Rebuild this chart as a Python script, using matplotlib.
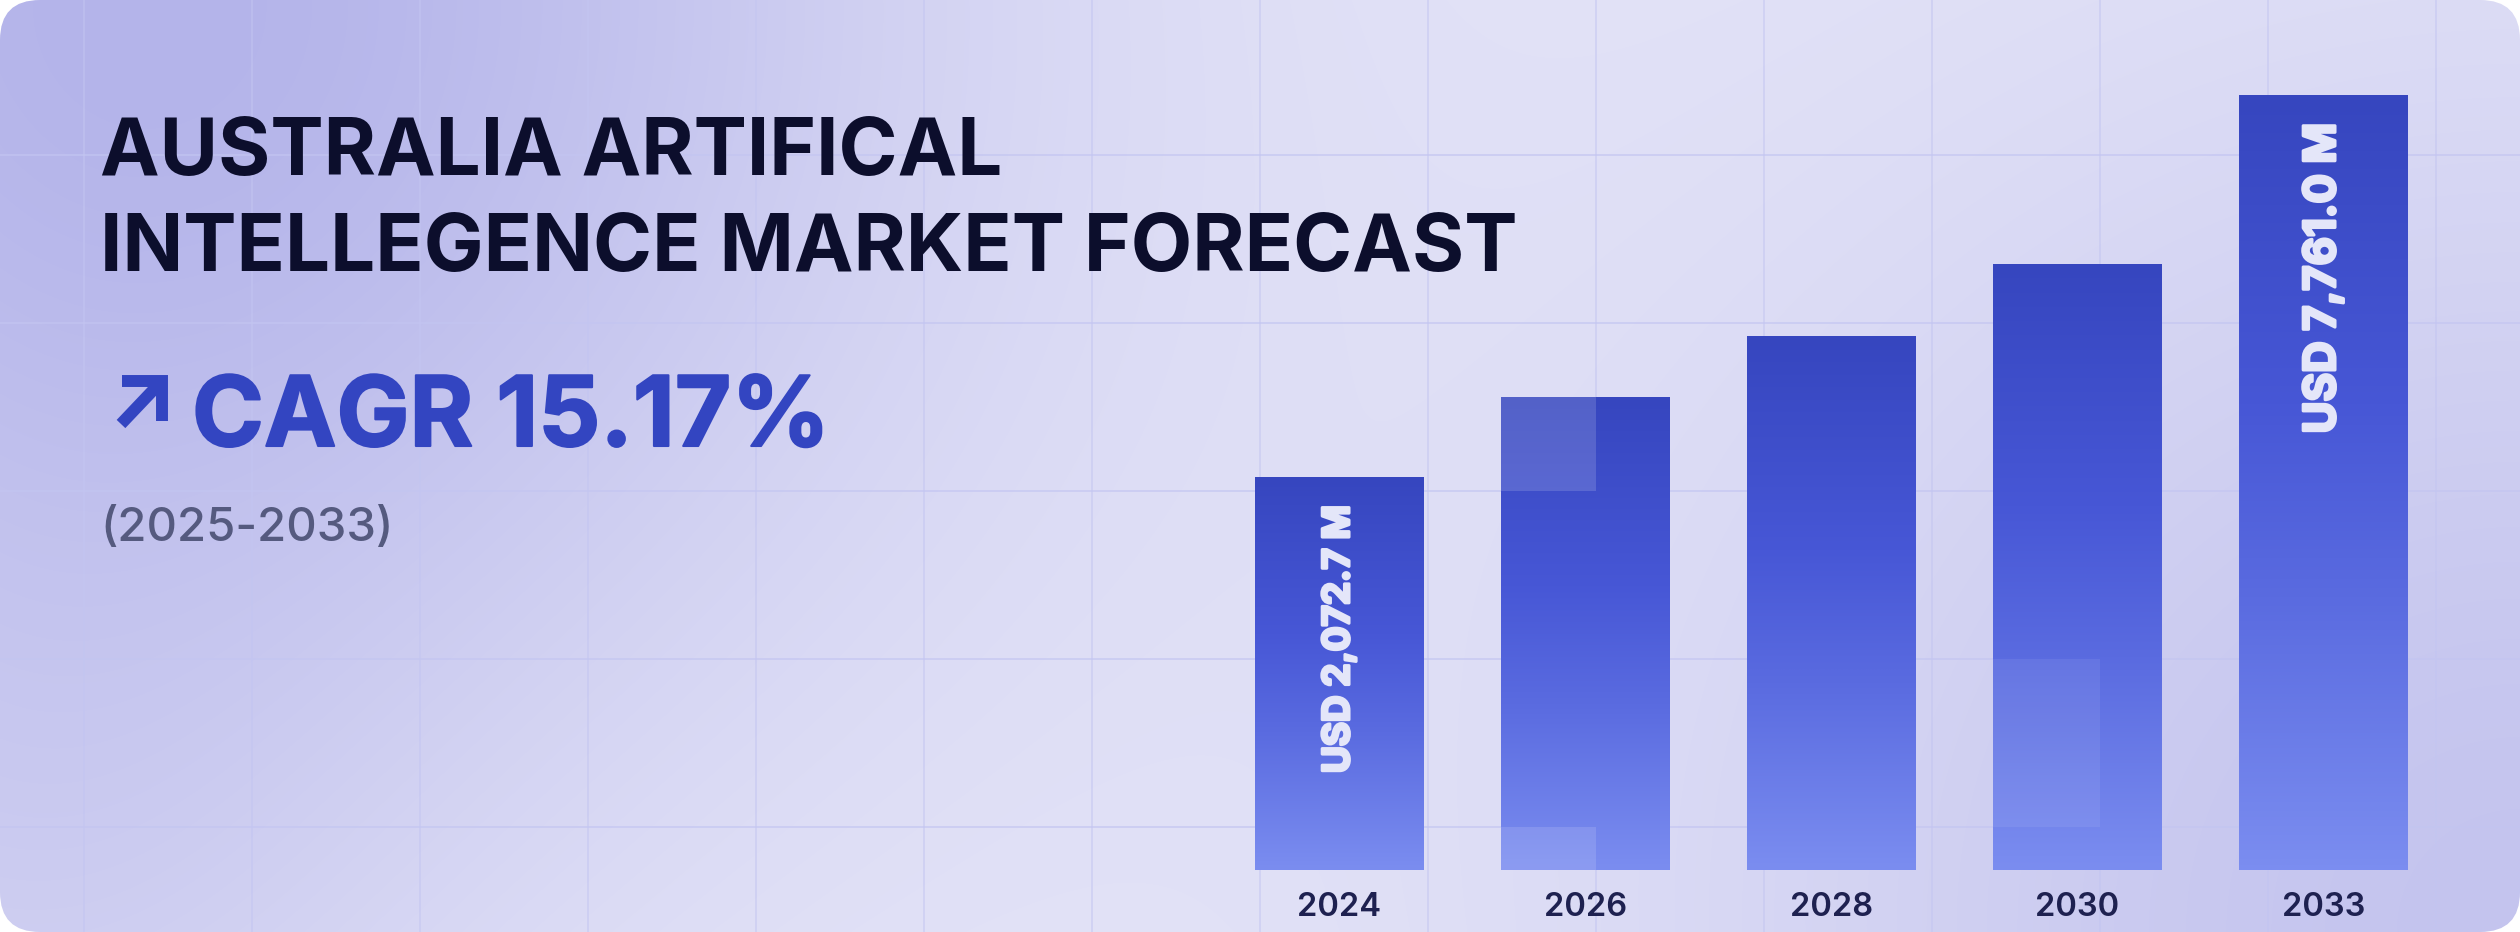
import numpy as np
import matplotlib
matplotlib.use("Agg")
import matplotlib.pyplot as plt
import matplotlib.patheffects as pe
from matplotlib.patches import FancyBboxPatch, Rectangle
from matplotlib.colors import LinearSegmentedColormap, to_rgb

# ---------------- data ----------------
years = ["2024", "2026", "2028", "2030", "2033"]
# relative bar heights (2033 bar = 100)
relative_height = [50.7, 61.0, 68.9, 78.2, 100.0]
bar_labels = ["USD 2,072.7 M", "", "", "", "USD 7,761.0 M"]
title_lines = ["AUSTRALIA ARTIFICAL", "INTELLEGENCE MARKET FORECAST"]
cagr_text = "CAGR 15.17%"
period_text = "(2025-2033)"

# ---------------- figure ----------------
W, H = 2520, 932
DPI = 100
fig = plt.figure(figsize=(W / DPI, H / DPI), dpi=DPI)
fig.patch.set_facecolor("white")

bg = fig.add_axes([0, 0, 1, 1])
bg.set_xlim(0, W)
bg.set_ylim(H, 0)
bg.axis("off")

# gradient background clipped to rounded rectangle
yy, xx = np.mgrid[0:H, 0:W]
base = np.array(to_rgb("#e7e7f8"))
purple = np.array(to_rgb("#b4b4ea"))
w1 = np.exp(-((xx - 150) ** 2 + (yy - 0) ** 2) / (2 * 560 ** 2))
w2 = 0.68 * np.exp(-((xx - 2520) ** 2 + (yy - 932) ** 2) / (2 * 620 ** 2))
w3 = 0.25 * np.exp(-((xx - 0) ** 2 + (yy - 932) ** 2) / (2 * 300 ** 2))
w = np.clip(w1 + w2 + w3, 0, 1)[..., None]
img = base * (1 - w) + purple * w
card = FancyBboxPatch((0, 0), W, H, boxstyle="round,pad=0,rounding_size=40",
                      facecolor="none", edgecolor="none", transform=bg.transData)
bg.add_patch(card)
im = bg.imshow(img, extent=(0, W, H, 0), origin="upper", zorder=0, aspect="auto")
im.set_clip_path(card)

# faint grid
grid_col = "#c3c5f1"
for gx in np.arange(84, W, 168):
    l = bg.plot([gx, gx], [0, H], color=grid_col, lw=1.2, alpha=0.6, zorder=1)[0]
    l.set_clip_path(card)
for gy in np.arange(155, H, 168):
    l = bg.plot([0, W], [gy, gy], color=grid_col, lw=1.4, alpha=0.65, zorder=1)[0]
    l.set_clip_path(card)

# ---------------- texts ----------------
title_font = dict(family=["Inter", "DejaVu Sans"], fontweight="bold")
bg.text(100, 175, title_lines[0], fontsize=57.5, color="#0c0e2c", va="baseline",
        ha="left", zorder=5, **title_font)
bg.text(100, 271, title_lines[1], fontsize=57.5, color="#0c0e2c", va="baseline",
        ha="left", zorder=5, **title_font)

blue_txt = "#3345c1"
# arrow icon
bg.plot([122, 162, 162], [381, 381, 421], color=blue_txt, lw=8.6,
        solid_joinstyle="miter", solid_capstyle="butt", zorder=5)
bg.plot([159, 121], [384, 424], color=blue_txt, lw=8.6,
        solid_capstyle="butt", zorder=5)
bg.text(192, 446, cagr_text, fontsize=70, color=blue_txt, va="baseline",
        ha="left", zorder=5, **title_font,
        path_effects=[pe.withStroke(linewidth=1.5, foreground=blue_txt)])
bg.text(100, 541, period_text, fontsize=34, color="#555a7f", va="baseline",
        ha="left", zorder=5, family=["Inter", "DejaVu Sans"], fontweight="medium")

# ---------------- bars ----------------
x_left, x_right = 1216.5, 2446.5
y_bottom_px, y_top_px = 870, 95
ax = fig.add_axes([x_left / W, (H - y_bottom_px) / H,
                   (x_right - x_left) / W, (y_bottom_px - y_top_px) / H])
ax.axis("off")
ax.patch.set_alpha(0)

bar_w = 169 / 246
xs = np.arange(len(years))
bars = ax.bar(xs, relative_height, width=bar_w, color="none", edgecolor="none", zorder=2)

cmap = LinearSegmentedColormap.from_list(
    "barg", [(0.0, "#7b8df0"), (0.35, "#5a6be0"), (0.6, "#4757d6"), (1.0, "#3646bf")])
grad = np.linspace(0, 1, 256)[:, None]
for b in bars:
    x0 = b.get_x()
    h = b.get_height()
    gi = ax.imshow(grad, extent=(x0, x0 + b.get_width(), 0, h), origin="lower",
                   cmap=cmap, aspect="auto", zorder=2, interpolation="bicubic")
    gi.set_clip_path(b)

ax.set_xlim(-0.5, len(years) - 0.5)
ax.set_ylim(0, 100)

# translucent highlight cells over bars (decorative)
highlight_cells = [((1428, 323, 168, 168), 0.15), ((1428, 827, 168, 105), 0.13),
                   ((1932, 659, 168, 168), 0.07)]
for (cx, cy, cw, ch), a in highlight_cells:
    for b in bars:
        r = Rectangle((cx, cy), cw, ch, transform=bg.transData, facecolor="white",
                      alpha=a, edgecolor="none", zorder=3)
        ax.add_patch(r)
        r.set_clip_path(b)

# value labels inside bars
label_col = "#e4e6f9"
label_sizes = [26.5, 31.5]
size_iter = iter(label_sizes)
for b, lab in zip(bars, bar_labels):
    if not lab:
        continue
    ax.annotate(lab, xy=(b.get_x() + b.get_width() / 2, b.get_height()),
                xytext=(0, -20), textcoords="offset points", rotation=90,
                ha="center", va="top", color=label_col, fontsize=next(size_iter),
                family=["Inter", "DejaVu Sans"], fontweight="bold", zorder=6,
                annotation_clip=False,
                path_effects=[pe.withStroke(linewidth=2.2, foreground=label_col)])

# year labels
for xi, yr in zip(xs, years):
    ax.annotate(yr, xy=(xi, 0), xytext=(0, -33), textcoords="offset points",
                ha="center", va="baseline", color="#1e2150", fontsize=23.5,
                family=["Inter", "DejaVu Sans"], fontweight="semibold",
                annotation_clip=False)

fig.savefig("out.png", dpi=DPI)
